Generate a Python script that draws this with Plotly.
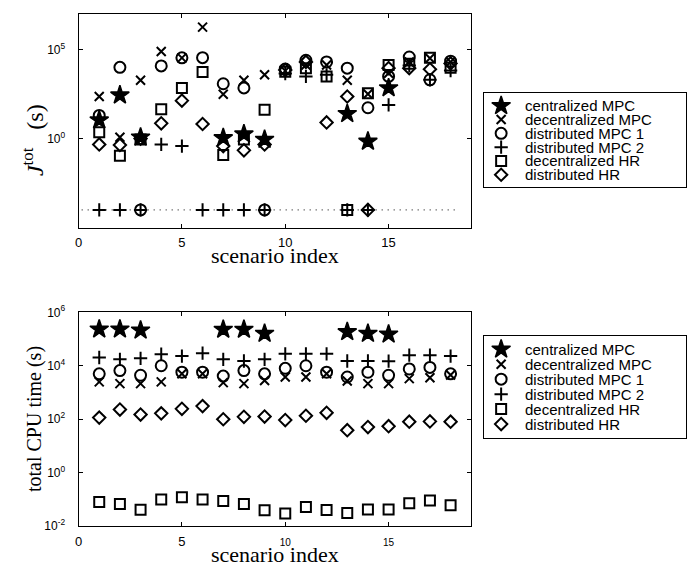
import plotly.graph_objects as go

W, H = 688, 574

# ---------------- data ----------------
scenarios = list(range(1, 19))
series_names = ["centralized MPC", "decentralized MPC", "distributed MPC 1",
                "distributed MPC 2", "decentralized HR", "distributed HR"]

floor_level = 1e-4          # dotted "zero" line in the upper plot
floor_span = [0.15, 18.4]

x_ticks = [0, 5, 10, 15]
jtot_ticks = [1, 1e5]
jtot_ticktext = ["10<sup>0</sup>", "10<sup>5</sup>"]
cpu_ticks = [1e-2, 1, 1e2, 1e4, 1e6]
cpu_ticktext = ["10<sup>-2</sup>", "10<sup>0</sup>", "10<sup>2</sup>", "10<sup>4</sup>", "10<sup>6</sup>"]

jtot_centralized_mpc = [11, 275, 1.2, None, None, None, 1.1, 1.8, 0.9, None, None, None, 25, 0.7, 700, None, None, None]
jtot_decentralized_mpc = [230, 1.2, 1900, 78000, 34000, 1.8e6, 310, 1900, 3800, 6300, 13500, 13500, 1900, 320, 4700, 20000, 32000, 20000]
jtot_distributed_mpc1 = [20, 10000, 1e-4, 12000, 34000, 35000, 1200, 700, 1e-4, 8000, 25000, 20000, 9000, 54, 3100, 38000, 2000, 22000]
jtot_distributed_mpc2 = [1e-4, 1e-4, 1e-4, 0.47, 0.38, 1e-4, 1e-4, 1e-4, 1e-4, 4500, 3100, 3800, 1e-4, 1e-4, 78, 12600, 2000, 6600]
jtot_decentralized_hr = [2.3, 0.11, 0.9, 44, 700, 5400, 0.12, 0.9, 42, 5600, 9000, 3100, 1e-4, 350, 13500, 16000, 35000, 9500]
jtot_distributed_hr = [0.47, 0.44, 1.0, 7.2, 135, 6.6, 0.38, 0.22, 0.47, 7000, 20000, 8.1, 230, 1e-4, 9000, 9000, 7800, 16600]

cpu_centralized_mpc = [234000, 234000, 214000, None, None, None, 229000, 229000, 162000, None, None, None, 186000, 162000, 151000, None, None, None]
cpu_decentralized_mpc = [2500, 2150, 2150, 2500, 5000, 5000, 2350, 2150, 2800, 3800, 3800, 5000, 2700, 2150, 2150, 3300, 3550, 4500]
cpu_distributed_mpc1 = [5000, 6600, 4400, 10000, 5750, 5750, 4100, 6600, 5000, 8000, 10000, 5750, 3800, 5750, 4400, 7600, 8700, 5000]
cpu_distributed_mpc2 = [20400, 17400, 19000, 27000, 23000, 29500, 17400, 15100, 17400, 28000, 28000, 28000, 15100, 15100, 14800, 25000, 25000, 23000]
cpu_decentralized_hr = [0.081, 0.068, 0.041, 0.10, 0.12, 0.10, 0.087, 0.068, 0.039, 0.030, 0.052, 0.040, 0.031, 0.042, 0.042, 0.072, 0.091, 0.060]
cpu_distributed_hr = [115, 230, 150, 166, 245, 310, 100, 123, 126, 93, 135, 174, 39, 51, 55, 81, 83, 81]

jtot_series = [jtot_centralized_mpc, jtot_decentralized_mpc, jtot_distributed_mpc1,
               jtot_distributed_mpc2, jtot_decentralized_hr, jtot_distributed_hr]
cpu_series = [cpu_centralized_mpc, cpu_decentralized_mpc, cpu_distributed_mpc1,
              cpu_distributed_mpc2, cpu_decentralized_hr, cpu_distributed_hr]

# ---------------- styles ----------------
marker_styles = [
    dict(symbol="star", size=14, lw=1.5),
    dict(symbol="x-thin-open", size=9, lw=2),
    dict(symbol="circle-open", size=11, lw=2),
    dict(symbol="cross-thin-open", size=9.5, lw=2),
    dict(symbol="square-open", size=10, lw=2),
    dict(symbol="diamond-open", size=9.5, lw=2),
]
SANS = "Liberation Sans, Arial, Helvetica, sans-serif"
SERIF = "Liberation Serif, Times New Roman, serif"


def px_x(p):
    return p / W


def px_y(p):
    return 1 - p / H


X_DOM = [px_x(75), px_x(470)]
TOP_DOM = [px_y(225), px_y(5)]
BOT_DOM = [px_y(532), px_y(312)]
LEG_X_DOM = [px_x(483), px_x(686)]
LEG1_DOM = [px_y(183), px_y(86)]
LEG2_DOM = [px_y(441), px_y(336)]

fig = go.Figure()

# dotted zero line
fig.add_trace(go.Scatter(x=floor_span, y=[floor_level, floor_level], mode="lines",
                         line=dict(color="black", width=1, dash="1px,5px"),
                         showlegend=False, hoverinfo="skip", xaxis="x", yaxis="y"))


def marker(i):
    st = marker_styles[i]
    return dict(symbol=st["symbol"], size=st["size"], color="black",
                line=dict(color="black", width=st["lw"]))


for i, name in enumerate(series_names):
    fig.add_trace(go.Scatter(x=scenarios, y=jtot_series[i], mode="markers", name=name,
                             marker=marker(i), showlegend=False, xaxis="x", yaxis="y"))
for i, name in enumerate(series_names):
    fig.add_trace(go.Scatter(x=scenarios, y=cpu_series[i], mode="markers", name=name,
                             marker=marker(i), showlegend=False, xaxis="x2", yaxis="y2"))

# legend boxes (one per panel), built on small helper axes
rows = list(range(len(series_names)))
LEG_MARK_X = 0.084
LEG_TEXT_X = 0.19
annotations = []
for ax_x, ax_y in (("x3", "y3"), ("x4", "y4")):
    for i, name in enumerate(series_names):
        fig.add_trace(go.Scatter(x=[LEG_MARK_X], y=[rows[i]], mode="markers", name=name,
                                 marker=marker(i), showlegend=False, hoverinfo="skip",
                                 xaxis=ax_x, yaxis=ax_y))
        annotations.append(dict(x=LEG_TEXT_X, y=rows[i], xref=ax_x, yref=ax_y, text=name,
                                showarrow=False, xanchor="left", yanchor="middle",
                                font=dict(family=SANS, size=15, color="black")))

common_axis = dict(showline=True, linecolor="black", linewidth=1, mirror="allticks",
                   ticks="inside", ticklen=4, tickcolor="black", showgrid=False,
                   zeroline=False)
legend_axis = dict(showline=True, linecolor="black", linewidth=1, mirror=True,
                   showticklabels=False, ticks="", showgrid=False, zeroline=False,
                   fixedrange=True)

n = len(series_names)
leg1_range = [n - 1 + 0.88, -0.95]
leg2_range = [n - 1 + 0.91, -0.91]

bottom_xticktext = ["0", "5"] + ["<span style='font-size:10px'>%d</span>" % v for v in x_ticks[2:]]

fig.update_layout(
    width=W, height=H, margin=dict(l=0, r=0, t=0, b=0),
    paper_bgcolor="white", plot_bgcolor="white", showlegend=False,
    font=dict(family=SANS, color="black"),
    xaxis=dict(domain=X_DOM, range=[0, 19], tickvals=x_ticks, anchor="y",
               tickfont=dict(size=13), ticklabelstandoff=3, **common_axis),
    yaxis=dict(domain=TOP_DOM, type="log", range=[-5, 7], tickvals=jtot_ticks,
               ticktext=jtot_ticktext, anchor="x", tickfont=dict(size=12),
               ticklabelstandoff=10, **common_axis),
    xaxis2=dict(domain=X_DOM, range=[0, 19], tickvals=x_ticks, ticktext=bottom_xticktext,
                anchor="y2", tickfont=dict(size=13), ticklabelstandoff=3, **common_axis),
    yaxis2=dict(domain=BOT_DOM, type="log", range=[-2, 6], tickvals=cpu_ticks,
                ticktext=cpu_ticktext, anchor="x2", tickfont=dict(size=12),
                ticklabelstandoff=10, **common_axis),
    xaxis3=dict(domain=LEG_X_DOM, range=[0, 1], anchor="y3", **legend_axis),
    yaxis3=dict(domain=LEG1_DOM, range=leg1_range, anchor="x3", **legend_axis),
    xaxis4=dict(domain=LEG_X_DOM, range=[0, 1], anchor="y4", **legend_axis),
    yaxis4=dict(domain=LEG2_DOM, range=leg2_range, anchor="x4", **legend_axis),
)

title_common = dict(xref="paper", yref="paper", showarrow=False,
                    xanchor="center", yanchor="middle")
annotations += [
    dict(x=px_x(29), y=px_y(135), textangle=-90,
         text="<i>J</i><sup>tot</sup>   (s)",
         font=dict(family=SERIF, size=24, color="black"), **title_common),
    dict(x=px_x(30), y=px_y(422), textangle=-90,
         text="total CPU time (s)",
         font=dict(family=SERIF, size=20, color="black"), **title_common),
    dict(x=px_x(272.5), y=px_y(254),
         text="scenario index",
         font=dict(family=SERIF, size=22, color="black"), **title_common),
    dict(x=px_x(272.5), y=px_y(561),
         text="scenario index",
         font=dict(family=SERIF, size=22, color="black"), **title_common),
]
fig.update_layout(annotations=annotations)

# remove the page's default body margin so the figure sits at the window origin
fig.write_html("out.html", config={"displayModeBar": False},
               post_script="document.body.style.margin='0px';")
